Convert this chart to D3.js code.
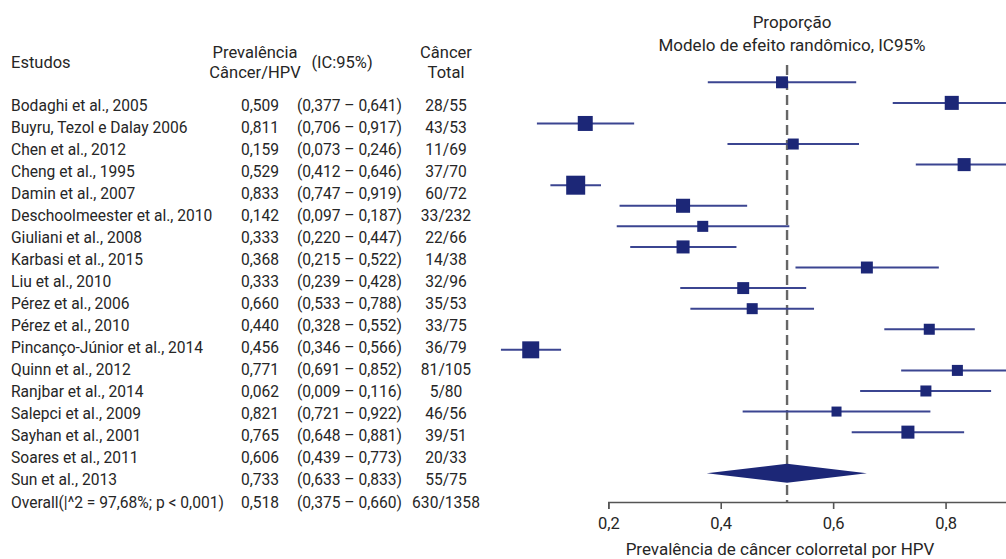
<!DOCTYPE html>
<html>
<head>
<meta charset="utf-8">
<script src="https://cdn.jsdelivr.net/npm/d3@7"></script>
<style>
  body { margin: 0; background: #fff; }
  svg text { font-family: Roboto, "Open Sans", sans-serif; fill: #262626; }
</style>
</head>
<body>
<div id="chart"></div>
<script>
// data
var studies = [
  'Bodaghi et al., 2005', 'Buyru, Tezol e Dalay 2006', 'Chen et al., 2012', 'Cheng et al., 1995',
  'Damin et al., 2007', 'Deschoolmeester et al., 2010', 'Giuliani et al., 2008', 'Karbasi et al., 2015',
  'Liu et al., 2010', 'Pérez et al., 2006', 'Pérez et al., 2010', 'Pincanço-Júnior et al., 2014',
  'Quinn et al., 2012', 'Ranjbar et al., 2014', 'Salepci et al., 2009', 'Sayhan et al., 2001',
  'Soares et al., 2011', 'Sun et al., 2013'
];
var prevalence = [0.509, 0.811, 0.159, 0.529, 0.833, 0.142, 0.333, 0.368, 0.333, 0.660, 0.440, 0.456, 0.771, 0.062, 0.821, 0.765, 0.606, 0.733];
var ciLow  = [0.377, 0.706, 0.073, 0.412, 0.747, 0.097, 0.220, 0.215, 0.239, 0.533, 0.328, 0.346, 0.691, 0.009, 0.721, 0.648, 0.439, 0.633];
var ciHigh = [0.641, 0.917, 0.246, 0.646, 0.919, 0.187, 0.447, 0.522, 0.428, 0.788, 0.552, 0.566, 0.852, 0.116, 0.922, 0.881, 0.773, 0.833];
var cases  = [28, 43, 11, 37, 60, 33, 22, 14, 32, 35, 33, 36, 81, 5, 46, 39, 20, 55];
var totals = [55, 53, 69, 70, 72, 232, 66, 38, 96, 53, 75, 79, 105, 80, 56, 51, 33, 75];
// relative weights (%) estimated from square sizes
var weights = [4.7, 6.5, 7.4, 4.0, 5.6, 11.9, 6.5, 4.0, 5.6, 4.7, 4.7, 4.0, 4.0, 9.5, 4.0, 4.0, 3.3, 5.6];

var overallLabel = 'Overall(|^2 = 97,68%; p < 0,001)';
var overallEst = 0.518, overallLow = 0.375, overallHigh = 0.660;
var overallCases = 630, overallTotal = 1358;

var xTicks = [0.2, 0.4, 0.6, 0.8];

var width = 1006, height = 559;
var navy = '#1c2777';

var pt = d3.formatLocale({decimal: ',', thousands: '.', grouping: [3], currency: ['R$', '']});
var f3 = pt.format('.3f'), f1 = pt.format('.1f');

var svg = d3.select('#chart').append('svg')
  .attr('width', width).attr('height', height);

// ---------- left table ----------
var rowIdx = d3.range(studies.length + 1);
var yText = d3.scaleLinear().domain([0, studies.length]).range([110.5, 507.5]);

var head = svg.append('g').style('font-size', '16.5px');
head.append('text').attr('x', 11).attr('y', 68).text('Estudos');
head.append('text').attr('x', 255).attr('y', 58).attr('text-anchor', 'middle').text('Prevalência');
head.append('text').attr('x', 255).attr('y', 78).attr('text-anchor', 'middle').text('Câncer/HPV');
head.append('text').attr('x', 342).attr('y', 68).attr('text-anchor', 'middle').text('(IC:95%)');
head.append('text').attr('x', 446).attr('y', 58).attr('text-anchor', 'middle').text('Câncer');
head.append('text').attr('x', 446).attr('y', 78).attr('text-anchor', 'middle').text('Total');

var rows = svg.append('g').style('font-size', '15.6px')
  .selectAll('g').data(rowIdx).enter().append('g')
  .attr('transform', function(i) { return 'translate(0,' + yText(i) + ')'; });

rows.append('text').attr('x', 11)
  .text(function(i) { return i < studies.length ? studies[i] : overallLabel; });
rows.append('text').attr('x', 279).attr('text-anchor', 'end')
  .text(function(i) { return f3(i < studies.length ? prevalence[i] : overallEst); });
rows.append('text').attr('x', 297)
  .text(function(i) {
    var lo = i < studies.length ? ciLow[i] : overallLow;
    var hi = i < studies.length ? ciHigh[i] : overallHigh;
    return '(' + f3(lo) + ' – ' + f3(hi) + ')';
  });
rows.append('text').attr('x', 446).attr('text-anchor', 'middle')
  .text(function(i) {
    return i < studies.length ? cases[i] + '/' + totals[i] : overallCases + '/' + overallTotal;
  });

// ---------- forest plot ----------
var x = d3.scaleLinear().domain([0.2, 1.0]).range([608.3, 1058]);
// study rows, one empty row, then the pooled estimate
var yPlot = d3.scaleLinear().domain([0, studies.length + 1]).range([82.3, 473.3]);
var size = d3.scaleSqrt().domain([0, d3.max(weights)]).range([0, 19]);
var axisY = 502;

svg.append('text').attr('x', 792).attr('y', 28).attr('text-anchor', 'middle')
  .style('font-size', '17px').text('Proporção');
svg.append('text').attr('x', 792).attr('y', 51).attr('text-anchor', 'middle')
  .style('font-size', '17px').text('Modelo de efeito randômico, IC95%');

// reference line at pooled estimate
svg.append('line')
  .attr('x1', x(overallEst)).attr('x2', x(overallEst))
  .attr('y1', 65).attr('y2', axisY)
  .attr('stroke', '#666').attr('stroke-width', 2.4).attr('stroke-dasharray', '10,5');

var plot = svg.append('g');
var idx = d3.range(studies.length);

plot.selectAll('.ci').data(idx).enter().append('line')
  .attr('class', 'ci')
  .attr('x1', function(i) { return x(ciLow[i]); })
  .attr('x2', function(i) { return x(ciHigh[i]); })
  .attr('y1', function(i) { return yPlot(i); })
  .attr('y2', function(i) { return yPlot(i); })
  .attr('stroke', '#3b4591').attr('stroke-width', 2);

plot.selectAll('.sq').data(idx).enter().append('rect')
  .attr('class', 'sq')
  .attr('x', function(i) { return x(prevalence[i]) - size(weights[i]) / 2; })
  .attr('y', function(i) { return yPlot(i) - size(weights[i]) / 2; })
  .attr('width', function(i) { return size(weights[i]); })
  .attr('height', function(i) { return size(weights[i]); })
  .attr('fill', navy);

var yd = yPlot(studies.length + 1);
plot.append('path')
  .attr('d', 'M' + x(overallLow) + ',' + yd +
             'L' + x(overallEst) + ',' + (yd - 9.5) +
             'L' + x(overallHigh) + ',' + yd +
             'L' + x(overallEst) + ',' + (yd + 9.5) + 'Z')
  .attr('fill', navy);

// axis
var xAxis = d3.axisBottom(x).tickValues(xTicks).tickSize(7).tickPadding(8)
  .tickFormat(function(d) { return f1(d); });
var ax = svg.append('g').attr('transform', 'translate(0,' + axisY + ')').call(xAxis);
ax.select('.domain').attr('stroke', '#555').attr('stroke-width', 1.6);
ax.selectAll('.tick line').attr('stroke', '#555').attr('stroke-width', 1.6);
ax.selectAll('.tick text').style('font-size', '16.5px').style('font-family', 'Roboto, sans-serif').attr('fill', '#262626');

svg.append('text').attr('x', 780).attr('y', 555).attr('text-anchor', 'middle')
  .style('font-size', '17px').text('Prevalência de câncer colorretal por HPV');
</script>
</body>
</html>
